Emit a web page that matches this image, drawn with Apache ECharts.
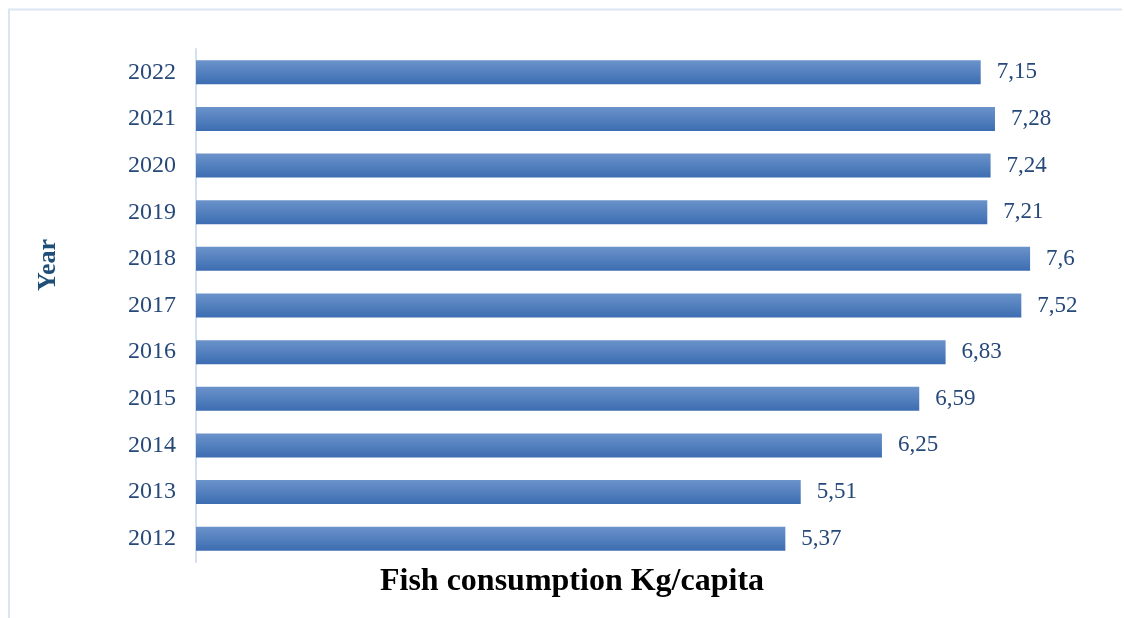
<!DOCTYPE html>
<html>
<head>
<meta charset="utf-8">
<script src="https://cdn.jsdelivr.net/npm/echarts@6/dist/echarts.min.js"></script>
<style>
  html, body { margin: 0; padding: 0; background: #fff; }
  #chart { width: 1124px; height: 618px; }
</style>
</head>
<body>
<div id="chart"></div>
<script>
// Years, bottom to top
const years = ['2012', '2013', '2014', '2015', '2016', '2017', '2018', '2019', '2020', '2021', '2022'];
// Fish consumption per capita (kg)
const consumption = [5.37, 5.51, 6.25, 6.59, 6.83, 7.52, 7.6, 7.21, 7.24, 7.28, 7.15];
const xTitle = 'Fish consumption Kg/capita';
const yTitle = 'Year';

const chart = echarts.init(document.getElementById('chart'));
const serif = '"Liberation Serif", "Times New Roman", serif';
const labelBlue = '#27497a';

chart.setOption({
  animation: false,
  backgroundColor: '#ffffff',
  grid: { left: 196, right: 50, top: 49, bottom: 56 },
  graphic: [
    // frame edges
    { type: 'line', shape: { x1: 8, y1: 9.5, x2: 1122, y2: 9.5 }, style: { stroke: '#dbe5f3', lineWidth: 2 } },
    { type: 'line', shape: { x1: 9, y1: 9, x2: 9, y2: 618 }, style: { stroke: '#dbe5f3', lineWidth: 2 } },
    // axis titles
    {
      type: 'text', x: 572, y: 582,
      style: { text: xTitle, fontFamily: serif, fontSize: 32, fontWeight: 'bold', fill: '#000000', align: 'center', verticalAlign: 'middle' }
    },
    {
      type: 'text', x: 48, y: 265, rotation: Math.PI / 2,
      style: { text: yTitle, fontFamily: serif, fontSize: 26, fontWeight: 'bold', fill: '#1f4e79', align: 'center', verticalAlign: 'middle' }
    }
  ],
  xAxis: {
    type: 'value',
    min: 0,
    max: 8,
    axisLine: { show: false },
    axisTick: { show: false },
    axisLabel: { show: false },
    splitLine: { show: false }
  },
  yAxis: {
    type: 'category',
    data: years,
    axisLine: { show: true, lineStyle: { color: '#d3e0f1', width: 2 } },
    axisTick: { show: false },
    axisLabel: { fontFamily: serif, fontSize: 24, color: labelBlue, margin: 20 }
  },
  series: [{
    type: 'bar',
    data: consumption,
    barWidth: 24,
    itemStyle: {
      color: new echarts.graphic.LinearGradient(0, 0, 0, 1, [
        { offset: 0, color: '#6b93cb' },
        { offset: 1, color: '#3c6db1' }
      ])
    },
    label: {
      show: true,
      position: 'right',
      distance: 16,
      fontFamily: serif,
      fontSize: 23,
      color: labelBlue,
      formatter: p => String(p.value).replace('.', ',')
    }
  }]
});
</script>
</body>
</html>
